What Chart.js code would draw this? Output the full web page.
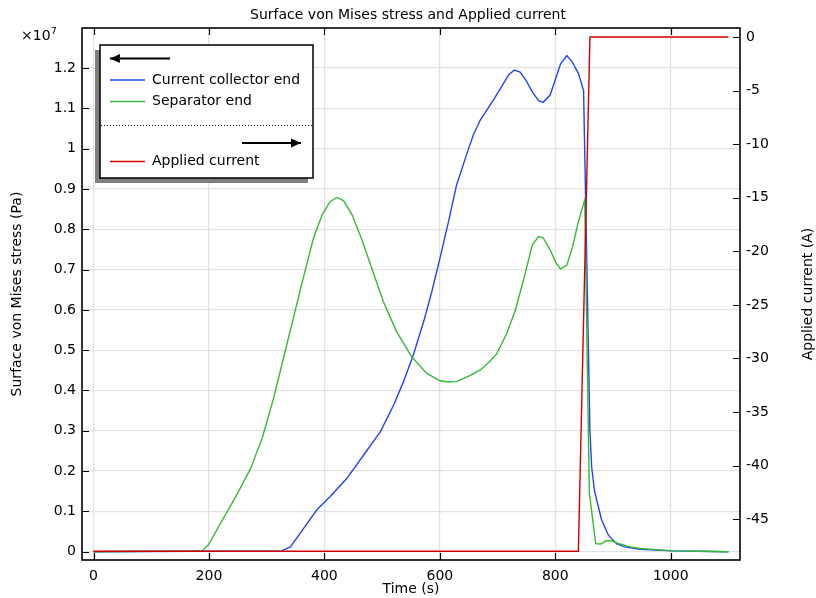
<!DOCTYPE html>
<html>
<head>
<meta charset="utf-8">
<script src="https://cdn.jsdelivr.net/npm/chart.js@4.4.0/dist/chart.umd.min.js"></script>
<style>
  html, body { margin: 0; padding: 0; background: #fff; }
</style>
</head>
<body>
<canvas id="myChart" width="816" height="598"></canvas>
<script>
// stress values are in units of 1e7 Pa (see the x10^7 note on the left axis)
const timeCollector = [0, 326, 341, 364, 387, 410, 439, 468, 497, 520, 537, 554, 572, 586, 600, 615, 629, 649, 658, 670, 693, 707, 719, 729, 739, 749, 761, 771, 779, 791, 800, 809, 820, 829, 840, 849, 860, 863, 868, 880, 892, 906, 920, 947, 1004, 1050, 1100];
const stressCollector = [0, 0.002, 0.012, 0.058, 0.104, 0.137, 0.182, 0.240, 0.298, 0.364, 0.422, 0.488, 0.571, 0.645, 0.727, 0.819, 0.910, 0.997, 1.034, 1.071, 1.121, 1.154, 1.183, 1.195, 1.19, 1.17, 1.139, 1.119, 1.115, 1.133, 1.171, 1.21, 1.231, 1.216, 1.187, 1.144, 0.3, 0.21, 0.15, 0.08, 0.041, 0.02, 0.012, 0.006, 0.002, 0.001, 0];

const timeSeparator = [0, 188, 199, 225, 248, 271, 292, 312, 329, 346, 364, 381, 396, 410, 422, 433, 448, 465, 485, 502, 525, 551, 577, 600, 615, 629, 652, 670, 685, 699, 716, 730, 745, 760, 771, 779, 791, 801, 809, 820, 830, 840, 851, 859, 870, 879, 888, 898, 912, 930, 947, 1004, 1050, 1100];
const stressSeparator = [0, 0.002, 0.017, 0.083, 0.141, 0.203, 0.281, 0.381, 0.480, 0.579, 0.683, 0.778, 0.836, 0.869, 0.879, 0.871, 0.836, 0.774, 0.691, 0.621, 0.546, 0.484, 0.443, 0.424, 0.421, 0.422, 0.437, 0.451, 0.47, 0.492, 0.542, 0.596, 0.674, 0.761, 0.782, 0.779, 0.749, 0.717, 0.701, 0.711, 0.757, 0.819, 0.873, 0.145, 0.02, 0.019, 0.027, 0.027, 0.019, 0.012, 0.008, 0.002, 0.001, 0];

const timeCurrent = [0, 840, 860, 1100];
const appliedCurrent = [-48, -48, 0, 0];

const timeTicks = [0, 200, 400, 600, 800, 1000];
const stressTicks = [0, 0.1, 0.2, 0.3, 0.4, 0.5, 0.6, 0.7, 0.8, 0.9, 1, 1.1, 1.2];
const currentTicks = [0, -5, -10, -15, -20, -25, -30, -35, -40, -45];

const BLUE = '#2145f4';
const GREEN = '#35b935';
const RED = '#d00000';
const FONT = 'DejaVu Sans';

function toPoints(xs, ys) {
  return xs.map((x, i) => ({x: x, y: ys[i]}));
}
function setTicks(list) {
  return function(scale) { scale.ticks = list.map(v => ({value: v})); };
}

// frame, inward tick marks, titles and the boxed legend
const decor = {
  id: 'decor',
  afterDraw(chart) {
    const ctx = chart.ctx;
    const a = chart.chartArea;
    const sx = chart.scales.x, sy = chart.scales.y, sy1 = chart.scales.y1;
    ctx.save();

    ctx.strokeStyle = '#000';
    ctx.lineWidth = 1.2;
    ctx.beginPath();
    timeTicks.forEach(v => {
      const px = Math.round(sx.getPixelForValue(v)) + 0.5;
      ctx.moveTo(px, a.bottom); ctx.lineTo(px, a.bottom - 7);
      ctx.moveTo(px, a.top); ctx.lineTo(px, a.top + 7);
    });
    stressTicks.forEach(v => {
      const py = Math.round(sy.getPixelForValue(v)) + 0.5;
      ctx.moveTo(a.left, py); ctx.lineTo(a.left + 7, py);
    });
    currentTicks.forEach(v => {
      const py = Math.round(sy1.getPixelForValue(v)) + 0.5;
      ctx.moveTo(a.right, py); ctx.lineTo(a.right - 7, py);
    });
    ctx.stroke();

    ctx.lineWidth = 1.6;
    ctx.strokeRect(a.left, a.top, a.right - a.left, a.bottom - a.top);

    ctx.fillStyle = '#000';
    ctx.font = '14px ' + FONT;
    ctx.textAlign = 'center';
    ctx.textBaseline = 'middle';
    ctx.fillText('Surface von Mises stress and Applied current', 408, 15);
    ctx.fillText('Time (s)', (a.left + a.right) / 2, 589);

    ctx.save();
    ctx.translate(17, (a.top + a.bottom) / 2);
    ctx.rotate(-Math.PI / 2);
    ctx.fillText('Surface von Mises stress (Pa)', 0, 0);
    ctx.restore();
    ctx.save();
    ctx.translate(808, (a.top + a.bottom) / 2);
    ctx.rotate(-Math.PI / 2);
    ctx.fillText('Applied current (A)', 0, 0);
    ctx.restore();

    ctx.textAlign = 'left';
    ctx.textBaseline = 'alphabetic';
    ctx.fillText('\u00d710', 21, 40);
    ctx.font = '9px ' + FONT;
    ctx.fillText('7', 51, 34);

    // legend box with shadow
    const bx = 100, by = 45, bw = 213, bh = 133;
    ctx.fillStyle = '#7f7f7f';
    ctx.fillRect(bx - 5, by + 5, bw, bh);
    ctx.fillStyle = '#fff';
    ctx.fillRect(bx, by, bw, bh);
    ctx.strokeStyle = '#000';
    ctx.lineWidth = 1.5;
    ctx.strokeRect(bx, by, bw, bh);

    function arrow(x1, x2, y, tipLeft) {
      ctx.lineWidth = 2;
      ctx.beginPath();
      ctx.moveTo(x1, y); ctx.lineTo(x2, y);
      ctx.stroke();
      const tip = tipLeft ? x1 : x2;
      const d = tipLeft ? 10 : -10;
      ctx.beginPath();
      ctx.moveTo(tip, y);
      ctx.lineTo(tip + d, y - 4.5);
      ctx.lineTo(tip + d, y + 4.5);
      ctx.closePath();
      ctx.fill();
    }
    ctx.fillStyle = '#000';
    arrow(110, 170, 58.5, true);
    arrow(242, 301, 143, false);

    ctx.lineWidth = 1;
    ctx.setLineDash([1, 2]);
    ctx.beginPath();
    ctx.moveTo(bx + 1, 125.5); ctx.lineTo(bx + bw - 1, 125.5);
    ctx.stroke();
    ctx.setLineDash([]);

    const entries = [
      ['Current collector end', BLUE, 80],
      ['Separator end', GREEN, 101.5],
      ['Applied current', RED, 161.5]
    ];
    ctx.font = '14px ' + FONT;
    ctx.textBaseline = 'middle';
    entries.forEach(e => {
      ctx.strokeStyle = e[1];
      ctx.lineWidth = 1.4;
      ctx.beginPath();
      ctx.moveTo(110, e[2]); ctx.lineTo(145, e[2]);
      ctx.stroke();
      ctx.fillStyle = '#000';
      ctx.fillText(e[0], 152, e[2]);
    });
    ctx.restore();
  }
};

const data = {
  datasets: [{
    label: 'Applied current',
    data: toPoints(timeCurrent, appliedCurrent),
    yAxisID: 'y1',
    borderColor: RED,
    order: 0
  }, {
    label: 'Current collector end',
    data: toPoints(timeCollector, stressCollector),
    yAxisID: 'y',
    borderColor: BLUE,
    order: 2
  }, {
    label: 'Separator end',
    data: toPoints(timeSeparator, stressSeparator),
    yAxisID: 'y',
    borderColor: GREEN,
    order: 1
  }]
};

const tickFont = {family: FONT, size: 14};

const config = {
  type: 'line',
  data: data,
  options: {
    responsive: false,
    animation: false,
    events: [],
    layout: {padding: {top: 28, left: 0, right: 0, bottom: 0}},
    elements: {
      point: {radius: 0},
      line: {borderWidth: 1.4, tension: 0, fill: false}
    },
    plugins: {legend: {display: false}, tooltip: {enabled: false}, title: {display: false}},
    scales: {
      x: {
        type: 'linear', min: -20, max: 1120,
        afterBuildTicks: setTicks(timeTicks),
        afterFit: s => { s.height = 38; },
        grid: {color: '#e2e2e2', lineWidth: 1.2, drawTicks: false},
        border: {display: false},
        ticks: {font: tickFont, color: '#000', padding: 8, maxRotation: 0,
          callback: v => String(v)}
      },
      y: {
        position: 'left', min: -0.0206, max: 1.2994,
        afterBuildTicks: setTicks(stressTicks),
        afterFit: s => { s.width = 82; },
        grid: {color: '#e2e2e2', lineWidth: 1.2, drawTicks: false},
        border: {display: false},
        ticks: {font: tickFont, color: '#000', padding: 6,
          callback: v => String(Math.round(v * 10) / 10)}
      },
      y1: {
        position: 'right', min: -48.81, max: 0.84,
        afterBuildTicks: setTicks(currentTicks),
        afterFit: s => { s.width = 76; },
        grid: {display: false, drawTicks: false},
        border: {display: false},
        ticks: {font: tickFont, color: '#000', padding: 6}
      }
    }
  },
  plugins: [decor]
};

const myChart = new Chart(document.getElementById('myChart').getContext('2d'), config);
</script>
</body>
</html>
